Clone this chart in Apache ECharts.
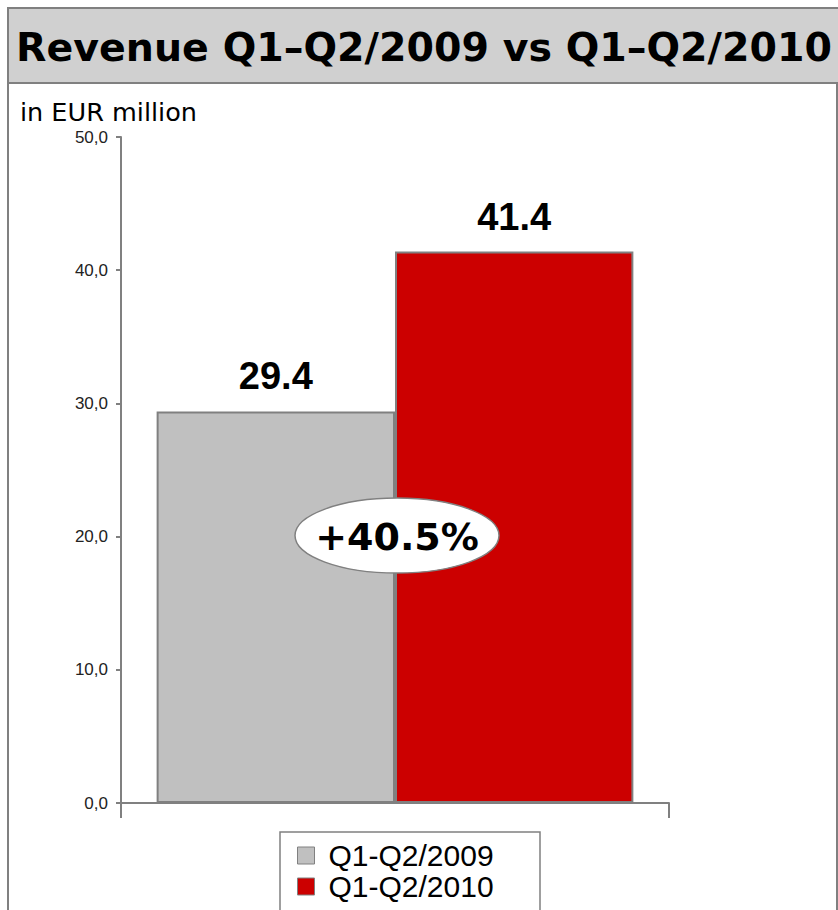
<!DOCTYPE html>
<html>
<head>
<meta charset="utf-8">
<script src="https://cdn.jsdelivr.net/npm/echarts@6/dist/echarts.min.js"></script>
<style>
html,body{margin:0;padding:0;background:#fff;}
#chart{width:838px;height:910px;}
</style>
</head>
<body>
<div id="chart"></div>
<script>
// ---- data ----
const chartTitle = 'Revenue Q1\u2013Q2/2009 vs Q1\u2013Q2/2010';
const unitLabel = 'in EUR million';
const categories = [''];
const seriesNames = ['Q1-Q2/2009', 'Q1-Q2/2010'];
const values2009 = [29.4];
const values2010 = [41.4];
const growthLabel = '+40.5%';
const growthAnchorValue = 20;
const yTicks = [0, 10, 20, 30, 40, 50];

const chart = echarts.init(document.getElementById('chart'), null, {renderer: 'svg'});

const border = '#808080';
const labelStyle = {
  show: true, position: 'top', distance: 16,
  fontFamily: 'Liberation Sans, Arial, sans-serif', fontWeight: 'bold', fontSize: 38, color: '#000',
  formatter: p => p.value.toFixed(1)
};

chart.setOption({
  animation: false,
  backgroundColor: '#fff',
  grid: {left: 121, top: 137, width: 548, height: 666, containLabel: false},
  xAxis: {
    type: 'category', data: categories,
    axisLine: {show: true, lineStyle: {color: border, width: 2}},
    axisTick: {show: true, length: 15, lineStyle: {color: border, width: 2}},
    axisLabel: {show: false}
  },
  yAxis: {
    type: 'value', min: yTicks[0], max: yTicks[yTicks.length - 1], interval: yTicks[1] - yTicks[0],
    splitLine: {show: false},
    axisLine: {show: true, onZero: false, lineStyle: {color: border, width: 2}},
    axisTick: {show: true, length: 5, lineStyle: {color: border, width: 2}},
    axisLabel: {
      margin: 13, fontFamily: 'Liberation Sans, Arial, sans-serif', fontSize: 17, color: '#222',
      formatter: v => v.toFixed(1).replace('.', ',')
    }
  },
  legend: {
    orient: 'vertical', left: 280, top: 832,
    padding: [8, 20, 0, 17], itemGap: 0, itemWidth: 17, itemHeight: 17,
    icon: 'rect',
    itemStyle: {borderColor: border, borderWidth: 1},
    textStyle: {fontFamily: 'Liberation Sans, Arial, sans-serif', fontSize: 30, color: '#000', lineHeight: 31, padding: [0, 0, 0, 9]},
    data: seriesNames
  },
  series: [
    {
      name: seriesNames[0], type: 'bar', data: values2009,
      barGap: '0%', barCategoryGap: '13%',
      itemStyle: {color: '#c0c0c0', borderColor: border, borderWidth: 2},
      label: labelStyle
    },
    {
      name: seriesNames[1], type: 'bar', data: values2010,
      barGap: '0%', barCategoryGap: '13%',
      itemStyle: {color: '#cc0000', borderColor: border, borderWidth: 2},
      label: labelStyle
    }
  ]
});

const cx = chart.convertToPixel({xAxisIndex: 0}, 0);
const cy = chart.convertToPixel({yAxisIndex: 0}, growthAnchorValue);

chart.setOption({
  graphic: [
    {type: 'rect', z: -10, silent: true, shape: {x: 8, y: 83, width: 829, height: 900},
     style: {fill: 'none', stroke: border, lineWidth: 2}},
    {type: 'rect', z: -5, silent: true, shape: {x: 280, y: 832, width: 260, height: 100},
     style: {fill: '#fff', stroke: border, lineWidth: 1.5}},
    {type: 'rect', z: 10, silent: true, shape: {x: 8, y: 8, width: 840, height: 75},
     style: {fill: '#d0d0d0', stroke: border, lineWidth: 2}},
    {type: 'text', z: 11, silent: true, x: 424, y: 47,
     style: {text: chartTitle, fill: '#000', font: 'bold 39.5px "DejaVu Sans", Verdana, sans-serif', textAlign: 'center', textVerticalAlign: 'middle'}},
    {type: 'text', z: 11, silent: true, x: 20, y: 112,
     style: {text: unitLabel, fill: '#000', font: '25.5px "DejaVu Sans", Verdana, sans-serif', textAlign: 'left', textVerticalAlign: 'middle'}},
    {type: 'ellipse', z: 20, silent: true, shape: {cx: cx + 2, cy: cy - 1, rx: 102, ry: 37.5},
     style: {fill: '#fff', stroke: border, lineWidth: 1.5}},
    {type: 'text', z: 21, silent: true, x: cx + 2, y: cy,
     style: {text: growthLabel, fill: '#000', font: 'bold 38px "DejaVu Sans", Verdana, sans-serif', textAlign: 'center', textVerticalAlign: 'middle'}}
  ]
});
</script>
</body>
</html>
